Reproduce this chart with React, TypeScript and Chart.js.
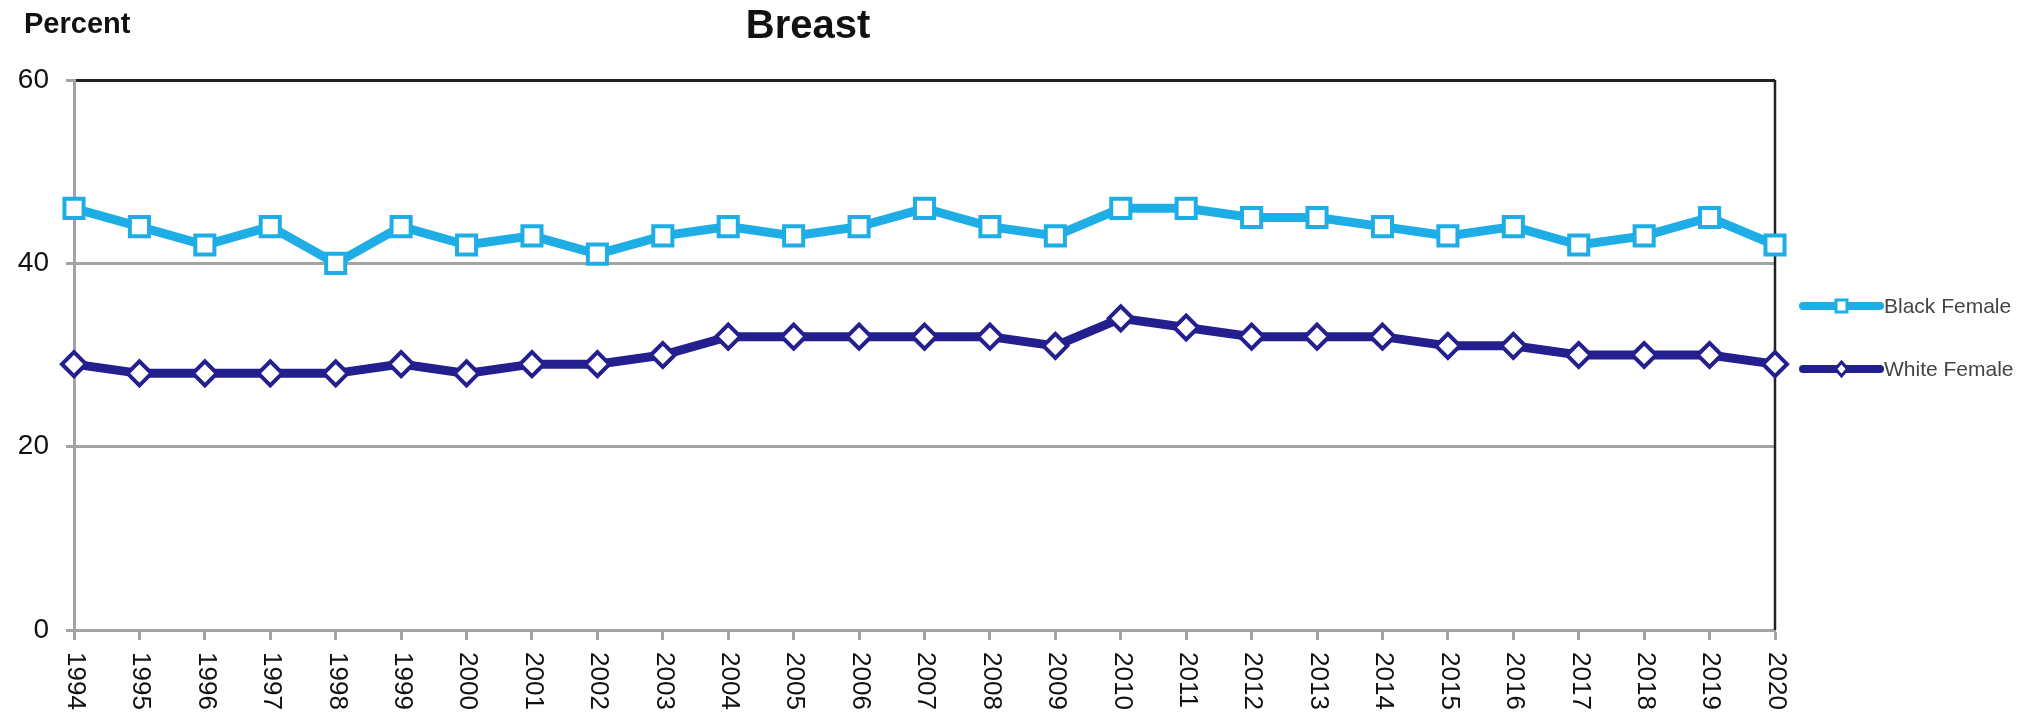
import React, { useEffect, useRef } from "react";
import { Chart, registerables } from "chart.js";

Chart.register(...registerables);

// ---------- data ----------
const years = [
  "1994", "1995", "1996", "1997", "1998", "1999", "2000", "2001", "2002",
  "2003", "2004", "2005", "2006", "2007", "2008", "2009", "2010", "2011",
  "2012", "2013", "2014", "2015", "2016", "2017", "2018", "2019", "2020",
];
const blackFemale = [
  46, 44, 42, 44, 40, 44, 42, 43, 41, 43, 44, 43, 44, 46, 44, 43, 46, 46,
  45, 45, 44, 43, 44, 42, 43, 45, 42,
];
const whiteFemale = [
  29, 28, 28, 28, 28, 29, 28, 29, 29, 30, 32, 32, 32, 32, 32, 31, 34, 33,
  32, 32, 32, 31, 31, 30, 30, 30, 29,
];
const seriesNames = ["Black Female", "White Female"];
const yTickValues = [0, 20, 40, 60];
const chartTitle = "Breast";
const yAxisTitle = "Percent";

// ---------- styles ----------
const FONT = "Arial, 'Liberation Sans', sans-serif";
const BLUE = "#1FADE6";
const NAVY = "#231F8E";
const GRID_GRAY = "#A3A3A3";
const DARK = "#222222";

const decorPlugin = {
  id: "decor",
  beforeDatasetsDraw(chart: any) {
    const { ctx, chartArea } = chart;
    ctx.save();
    ctx.strokeStyle = DARK;
    ctx.lineWidth = 2.5;
    ctx.beginPath();
    ctx.moveTo(chartArea.right, chartArea.top);
    ctx.lineTo(chartArea.right, chartArea.bottom);
    ctx.stroke();
    ctx.restore();
  },
  afterDraw(chart: any) {
    const { ctx, chartArea } = chart;
    const xs = chart.scales.x;

    // rotated x labels (reading top to bottom)
    ctx.save();
    ctx.font = `26px ${FONT}`;
    ctx.fillStyle = "#111";
    ctx.textAlign = "left";
    ctx.textBaseline = "middle";
    xs.ticks.forEach((t: any, i: number) => {
      const x = xs.getPixelForTick(i);
      ctx.save();
      ctx.translate(x + 1, chartArea.bottom + 22);
      ctx.rotate(Math.PI / 2);
      ctx.fillText(String(xs.getLabelForValue(t.value)), 0, 0);
      ctx.restore();
    });
    ctx.restore();

    // title
    ctx.save();
    ctx.fillStyle = "#111";
    ctx.textBaseline = "middle";
    ctx.textAlign = "center";
    ctx.font = `bold 40px ${FONT}`;
    ctx.fillText(chartTitle, 808, 27);
    ctx.textAlign = "left";
    ctx.font = `bold 29px ${FONT}`;
    ctx.fillText(yAxisTitle, 24, 25);
    ctx.restore();

    // legend
    const lx0 = chartArea.right + 28;
    const lx1 = chartArea.right + 105;
    const ys = [306, 369];
    chart.data.datasets.forEach((ds: any, i: number) => {
      const y = ys[i];
      const cx = (lx0 + lx1) / 2;
      ctx.save();
      ctx.strokeStyle = ds.borderColor;
      ctx.lineWidth = 8;
      ctx.lineCap = "round";
      ctx.beginPath();
      ctx.moveTo(lx0, y);
      ctx.lineTo(lx1, y);
      ctx.stroke();
      ctx.lineCap = "butt";
      ctx.fillStyle = "#fff";
      ctx.lineWidth = 3;
      ctx.beginPath();
      if (ds.pointStyle === "rect") {
        ctx.rect(cx - 5.5, y - 6, 11, 12);
      } else {
        ctx.moveTo(cx, y - 7);
        ctx.lineTo(cx + 6, y);
        ctx.lineTo(cx, y + 7);
        ctx.lineTo(cx - 6, y);
        ctx.closePath();
      }
      ctx.fill();
      ctx.stroke();
      ctx.fillStyle = "#444";
      ctx.font = `21px ${FONT}`;
      ctx.textAlign = "left";
      ctx.textBaseline = "middle";
      ctx.fillText(ds.label, lx1 + 4, y + 1);
      ctx.restore();
    });
  },
};

export default function App() {
  const ref = useRef<HTMLCanvasElement | null>(null);

  useEffect(() => {
    if (!ref.current) return;
    const chart = new Chart(ref.current, {
      type: "line",
      data: {
        labels: years,
        datasets: [
          {
            label: seriesNames[0],
            data: blackFemale,
            borderColor: BLUE,
            backgroundColor: BLUE,
            borderWidth: 9,
            pointStyle: "rect",
            pointRadius: 13.5,
            pointBorderWidth: 4,
            pointBackgroundColor: "#ffffff",
            pointBorderColor: BLUE,
            tension: 0,
            clip: false as any,
          },
          {
            label: seriesNames[1],
            data: whiteFemale,
            borderColor: NAVY,
            backgroundColor: NAVY,
            borderWidth: 9,
            pointStyle: "rectRot",
            pointRadius: 12,
            pointBorderWidth: 4,
            pointBackgroundColor: "#ffffff",
            pointBorderColor: NAVY,
            tension: 0,
            clip: false as any,
          },
        ],
      },
      options: {
        animation: false,
        responsive: false,
        layout: { padding: { top: 80, right: 254, left: 0, bottom: 0 } },
        plugins: {
          legend: { display: false },
          title: { display: false },
          tooltip: { enabled: false },
        },
        scales: {
          x: {
            type: "category",
            offset: false,
            ticks: { display: false },
            grid: {
              drawOnChartArea: false,
              drawTicks: true,
              tickLength: 10,
              tickColor: GRID_GRAY,
              tickWidth: 3,
            },
            border: { color: GRID_GRAY, width: 3 },
            afterFit(scale: any) {
              scale.height = 87;
            },
          },
          y: {
            min: 0,
            max: 60,
            afterBuildTicks(scale: any) {
              scale.ticks = yTickValues.map((v) => ({ value: v }));
            },
            ticks: {
              font: { family: FONT, size: 28 },
              color: "#111",
              padding: 17,
            },
            grid: {
              color: (c: any) => (c.tick && c.tick.value === 60 ? DARK : GRID_GRAY),
              lineWidth: 3,
              tickColor: GRID_GRAY,
              tickLength: 8,
            },
            border: { color: GRID_GRAY, width: 3 },
            afterFit(scale: any) {
              scale.width = 74;
            },
          },
        },
      },
      plugins: [decorPlugin],
    });
    return () => chart.destroy();
  }, []);

  return (
    <div style={{ position: "absolute", left: 0, top: 0, width: 2029, height: 717, background: "#fff" }}>
      <canvas ref={ref} width={2029} height={717} style={{ display: "block" }} />
    </div>
  );
}
